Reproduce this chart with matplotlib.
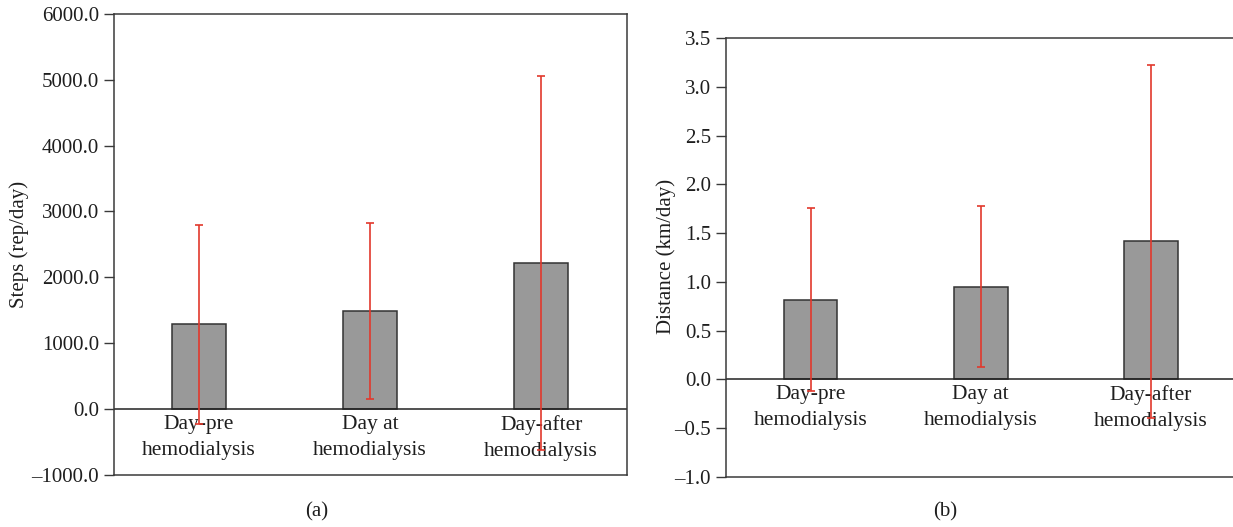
import numpy as np
import matplotlib
matplotlib.use('Agg')
import matplotlib.pyplot as plt

plt.rcParams['font.family'] = ['Liberation Serif', 'DejaVu Serif']

categories = ['Day-pre\nhemodialysis', 'Day at\nhemodialysis', 'Day-after\nhemodialysis']
steps_mean = [1284, 1486, 2216]
steps_sd = [1505, 1337, 2832]
distance_mean = [0.818, 0.949, 1.416]
distance_sd = [0.937, 0.825, 1.813]

BAR_COLOR = '#999999'
EDGE_COLOR = '#333333'
ERR_COLOR = '#e2382c'
SPINE_COLOR = '#3a3a3a'
TEXT_COLOR = '#1e1e1e'
FONT_SIZE = 15


def draw_panel(ax, means, sds, ylim, yticks, hide_right=False):
    x = np.arange(len(categories))
    ax.bar(x, means, width=0.315, color=BAR_COLOR, edgecolor=EDGE_COLOR,
           linewidth=1.1, zorder=2)
    ax.axhline(0, color='#222222', linewidth=1.1, zorder=2.5)
    ax.errorbar(x, means, yerr=sds, fmt='none', ecolor=ERR_COLOR,
                elinewidth=1.2, capsize=2.8, capthick=1.2, zorder=4)
    for xi, label in zip(x, categories):
        ax.annotate(label, xy=(xi, 0), xytext=(0, -4), textcoords='offset points',
                    ha='center', va='top', fontsize=15.5, linespacing=1.5,
                    color=TEXT_COLOR, zorder=3)
    ax.set_xlim(-0.5, 2.5)
    ax.set_ylim(*ylim)
    ax.set_xticks([])
    ax.set_yticks(yticks)
    ax.yaxis.set_major_formatter(
        matplotlib.ticker.FuncFormatter(lambda v, _: f'{v:.1f}'.replace('-', '\u2013')))
    ax.tick_params(axis='y', direction='out', length=7, width=1.0, pad=3.5,
                   labelsize=FONT_SIZE, colors=SPINE_COLOR, labelcolor=TEXT_COLOR)
    for s in ax.spines.values():
        s.set_color(SPINE_COLOR)
        s.set_linewidth(1.1)
    if hide_right:
        ax.spines['right'].set_visible(False)


fig = plt.figure(figsize=(12.33, 5.27), dpi=100)

ax1 = fig.add_axes([0.0921, 0.0987, 0.4162, 0.8752])
draw_panel(ax1, steps_mean, steps_sd, (-1000, 6000), np.arange(-1000, 6001, 1000))

ax2 = fig.add_axes([0.5885, 0.0956, 0.4139, 0.8317])
draw_panel(ax2, distance_mean, distance_sd, (-1.0, 3.5), np.arange(-1.0, 3.51, 0.5),
           hide_right=True)

fig.text(19 / 1233, 0.536, 'Steps (rep/day)', rotation=90, ha='center', va='center',
         fontsize=FONT_SIZE, color=TEXT_COLOR)
fig.text(666 / 1233, 0.514, 'Distance (km/day)', rotation=90, ha='center', va='center',
         fontsize=FONT_SIZE, color=TEXT_COLOR)

fig.text(317 / 1233, 1 - 512 / 527, '(a)', ha='center', va='center',
         fontsize=FONT_SIZE, color=TEXT_COLOR)
fig.text(945 / 1233, 1 - 512 / 527, '(b)', ha='center', va='center',
         fontsize=FONT_SIZE, color=TEXT_COLOR)

fig.savefig('out.png', dpi=100)
